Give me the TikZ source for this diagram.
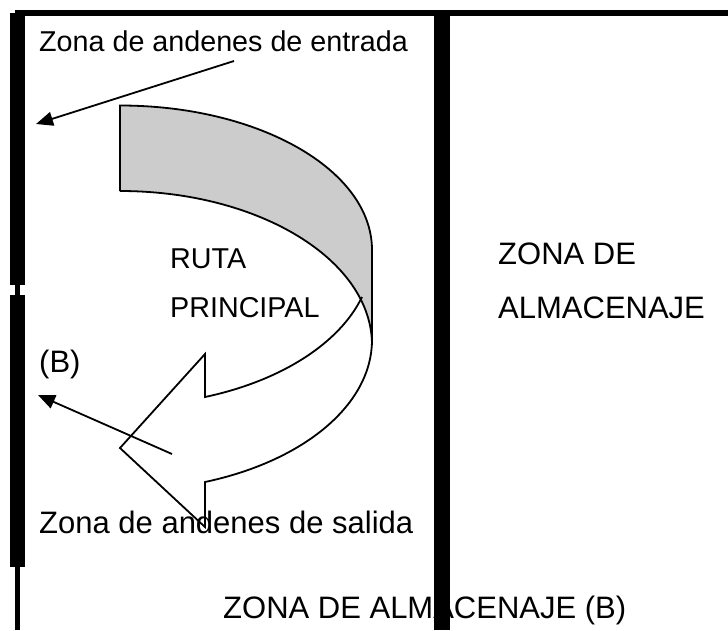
\documentclass[tikz,border=0pt]{standalone}
\usepackage{fontspec}
\setmainfont{Liberation Sans}
\usetikzlibrary{arrows.meta}
\tikzset{
    muro/.style={line width=15.5pt},
    murofino/.style={line width=5pt},
    ruta/.style={draw,line width=1.8pt,line join=miter},
    flecha/.style={line width=1.8pt,-{Triangle[length=17pt,width=14pt]}},
    rotulo/.style={anchor=base west,inner sep=0pt,font=\fontsize{31}{36}\selectfont},
    rotulochico/.style={rotulo,font=\fontsize{28.7}{34}\selectfont},
}

\begin{document}
\begin{tikzpicture}[x=1pt,y=-1pt]
    \useasboundingbox (0,0) rectangle (728,630);

    \node[rotulo] (almacenajeb) at (223,618) {ZONA DE ALMACENAJE (B)};

    %Walls
    \draw[murofino,line width=6pt] (15,13) -- (728,13);
    \draw[muro] (17.5,13) -- (17.5,285);
    \draw[murofino] (17.8,285) -- (17.8,295);
    \draw[muro] (17.5,295) -- (17.5,567);
    \draw[murofino] (17.8,567) -- (17.8,630);
    \draw[muro] (442,13) -- (442,630);

    %Curved arrow
    \fill[gray!40] (120,105.5) .. controls (259,105.5) and (372,170) .. (372,250)
        -- (372,345) .. controls (372,260) and (259,191) .. (120,191) -- cycle;
    \draw[ruta] (120,191) -- (120,105.5) .. controls (259,105.5) and (372,170) .. (372,250)
        -- (372,340) .. controls (372,403.8) and (305.2,460.7) .. (205,482)
        -- (205,527) -- (120,448) -- (205,354) -- (205,397)
        .. controls (280.9,380.9) and (339.5,343.4) .. (362,297);
    \draw[ruta] (120,191) .. controls (259,191) and (372,260) .. (372,345);

    \node[rotulochico] (entrada) at (39,51) {Zona de andenes de entrada};
    \node[rotulochico] (ruta) at (170,268) {RUTA};
    \node[rotulochico] (principal) at (170,317) {PRINCIPAL};
    \node[rotulo] (zona) at (498,264) {ZONA DE};
    \node[rotulo] (almacenaje) at (498,318) {ALMACENAJE};
    \node[rotulo] (b) at (39,372) {(B)};
    \node[rotulo] (salida) at (39,533) {Zona de andenes de salida};

    \coordinate (origenentrada) at (234,61);
    \coordinate (muroentrada) at (36,124);
    \coordinate (origenb) at (172,454);
    \coordinate (murob) at (38,395);
    \draw[flecha] (origenentrada) -- (muroentrada);
    \draw[flecha] (origenb) -- (murob);
\end{tikzpicture}
\end{document}
